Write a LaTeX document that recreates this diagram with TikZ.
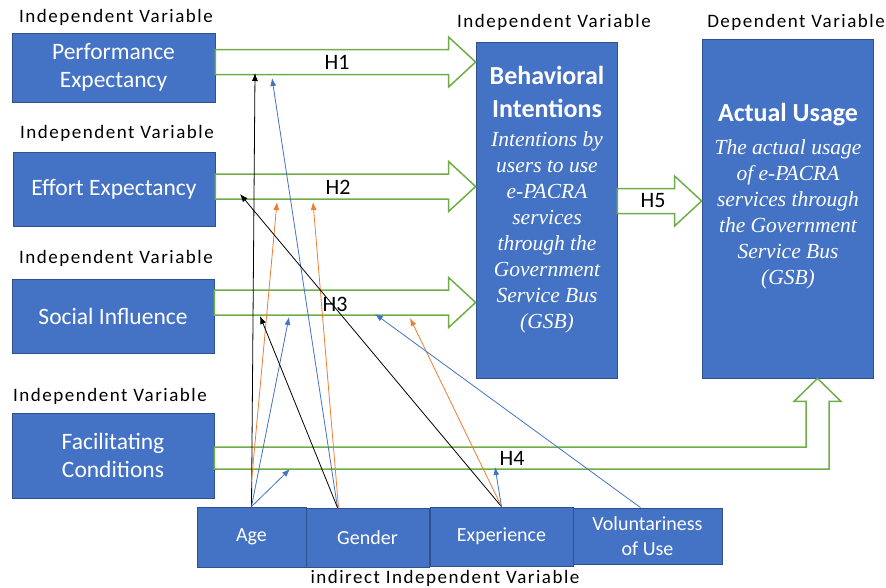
\documentclass[tikz,border=0pt]{standalone}
\usepackage{fontspec}
\setmainfont{Carlito}
\newfontfamily\timesit{Liberation Serif}
\newfontfamily\spacedfont[LetterSpace=8]{Carlito}
\usetikzlibrary{arrows.meta,calc}

\definecolor{boxblue}{HTML}{4472C4}
\definecolor{boxline}{HTML}{2F528F}
\definecolor{hgreen}{HTML}{70AD47}
\definecolor{modorange}{HTML}{ED7D31}
\definecolor{modblue}{HTML}{4472C4}

\tikzset{
    varbox/.style={rectangle, fill=boxblue, draw=boxline, line width=.8pt, text=white,
        align=center, inner sep=0pt, font=\fontsize{23.5}{28}\selectfont},
    modbox/.style={varbox, font=\fontsize{20}{25}\selectfont},
    varlabel/.style={inner sep=0pt, font=\spacedfont\fontsize{19}{22}\selectfont},
    titletext/.style={text=white, align=center, inner sep=0pt, font=\bfseries\fontsize{26}{33}\selectfont},
    desctext/.style={text=white, align=center, inner sep=0pt, font=\timesit\itshape\fontsize{21.5}{26}\selectfont},
    harrow/.style={fill=white, draw=hgreen, line width=1.5pt, line join=miter},
    hlabel/.style={inner sep=0pt, font=\fontsize{22}{25}\selectfont},
    modline/.style={line width=.8pt, -{Latex[length=8pt,width=6pt]}}
}

% right-pointing block arrow: #1 start anchor, #2 end anchor, #3 vertical shift
\newcommand{\blockright}[3]{%
    \filldraw[harrow] let \p1=([yshift=#3]#1), \p2=(#2) in
        (\x1,{\y1+12.5pt}) -- ({\x2-27pt},{\y1+12.5pt}) -- ({\x2-27pt},{\y1+25pt}) -- (\x2,\y1)
        -- ({\x2-27pt},{\y1-25pt}) -- ({\x2-27pt},{\y1-12.5pt}) -- (\x1,{\y1-12.5pt}) -- cycle;}

\begin{document}
\begin{tikzpicture}[x=1pt, y=-1pt]
    \useasboundingbox (0,0) rectangle (886,587);

    % independent variables
    \node[varbox, minimum width=203, minimum height=69] (pe) at (113.5,67.5) {Performance\\Expectancy};
    \node[varbox, minimum width=202, minimum height=74] (ee) at (114,189) {Effort Expectancy};
    \node[varbox, minimum width=202, minimum height=74] (si) at (113,316) {Social Influence};
    \node[varbox, minimum width=202, minimum height=85] (fc) at (113,455.5) {Facilitating\\Conditions};

    % intention and usage
    \node[varbox, minimum width=141, minimum height=336] (bi) at (546.5,210) {};
    \node[varbox, minimum width=171, minimum height=339] (au) at (787.5,208.5) {};
    \node[titletext] (bititle) at (547,92) {Behavioral\\Intentions};
    \node[desctext] (bidesc) at (547,232) {Intentions by\\users to use\\e-PACRA\\services\\through the\\Government\\Service Bus\\(GSB)};
    \node[titletext] (autitle) at (788,115) {Actual Usage};
    \node[desctext] (audesc) at (788,214) {The actual usage\\of e-PACRA\\services through\\the Government\\Service Bus\\(GSB)};

    % moderators
    \node[modbox, minimum width=109, minimum height=60] (age) at (251.5,537) {Age};
    \node[modbox, minimum width=123, minimum height=59] (gender) at (367.5,537.5) {Gender};
    \node[modbox, minimum width=143, minimum height=59] (exp) at (501.5,536.5) {Experience};
    \node[modbox, minimum width=149, minimum height=56] (vol) at (647.5,536) {Voluntariness\\of Use};

    % captions
    \node[varlabel] (pelab) at (116,17) {Independent Variable};
    \node[varlabel] (eelab) at (117,133) {Independent Variable};
    \node[varlabel] (silab) at (116,258) {Independent Variable};
    \node[varlabel] (fclab) at (110,396) {Independent Variable};
    \node[varlabel] (bilab) at (554,22) {Independent Variable};
    \node[varlabel] (aulab) at (796,22) {Dependent Variable};
    \node[varlabel] (modlab) at (445,578) {indirect Independent Variable};

    % hypotheses
    \blockright{pe.east}{bi.west}{5.5}
    \blockright{ee.east}{bi.west}{2.5}
    \blockright{si.east}{bi.west}{13.5}
    \blockright{bi.east}{au.west}{9}
    \filldraw[harrow] let \p1=([yshift=-2.5]fc.east), \p2=([xshift=30]au.south) in
        (\x1,{\y1+11pt}) -- ({\x2-11.5pt},{\y1+11pt}) -- ({\x2-11.5pt},{\y2-23pt}) -- ({\x2-23.5pt},{\y2-23pt})
        -- (\x2,\y2) -- ({\x2+23.5pt},{\y2-23pt}) -- ({\x2+11.5pt},{\y2-23pt}) -- ({\x2+11.5pt},{\y1-11pt})
        -- (\x1,{\y1-11pt}) -- cycle;
    \node[hlabel] (h1) at (337,62) {H1};
    \node[hlabel] (h2) at (338,187) {H2};
    \node[hlabel] (h3) at (335,304) {H3};
    \node[hlabel] (h4) at (512,458) {H4};
    \node[hlabel] (h5) at (653,201) {H5};

    % where the moderating lines meet the hypotheses
    \coordinate (onH1a) at (255,73);
    \coordinate (onH1b) at (272,78);
    \coordinate (onH2a) at (277,202);
    \coordinate (onH2b) at (313,202);
    \coordinate (onH2c) at (240,194);
    \coordinate (onH3a) at (289,317);
    \coordinate (onH3b) at (260,316);
    \coordinate (onH3c) at (410,318);
    \coordinate (onH3d) at (375,314);
    \coordinate (onH4a) at (290,469);
    \coordinate (onH4b) at (495,467);

    \draw[modline, black] (age.north) -- (onH1a);
    \draw[modline, modblue] ([xshift=-30]gender.north) -- (onH1b);
    \draw[modline, modorange] ([yshift=25]age.north) -- (onH2a);
    \draw[modline, modorange] ([xshift=-29]gender.north) -- (onH2b);
    \draw[modline, black] (exp.north) -- (onH2c);
    \draw[modline, modblue] (age.north) -- (onH3a);
    \draw[modline, black] ([xshift=-30]gender.north) -- (onH3b);
    \draw[modline, modorange] (exp.north) -- (onH3c);
    \draw[modline, modblue] ([xshift=-7]vol.north) -- (onH3d);
    \draw[modline, modblue] (age.north) -- (onH4a);
    \draw[modline, modblue] (exp.north) -- (onH4b);
\end{tikzpicture}
\end{document}
